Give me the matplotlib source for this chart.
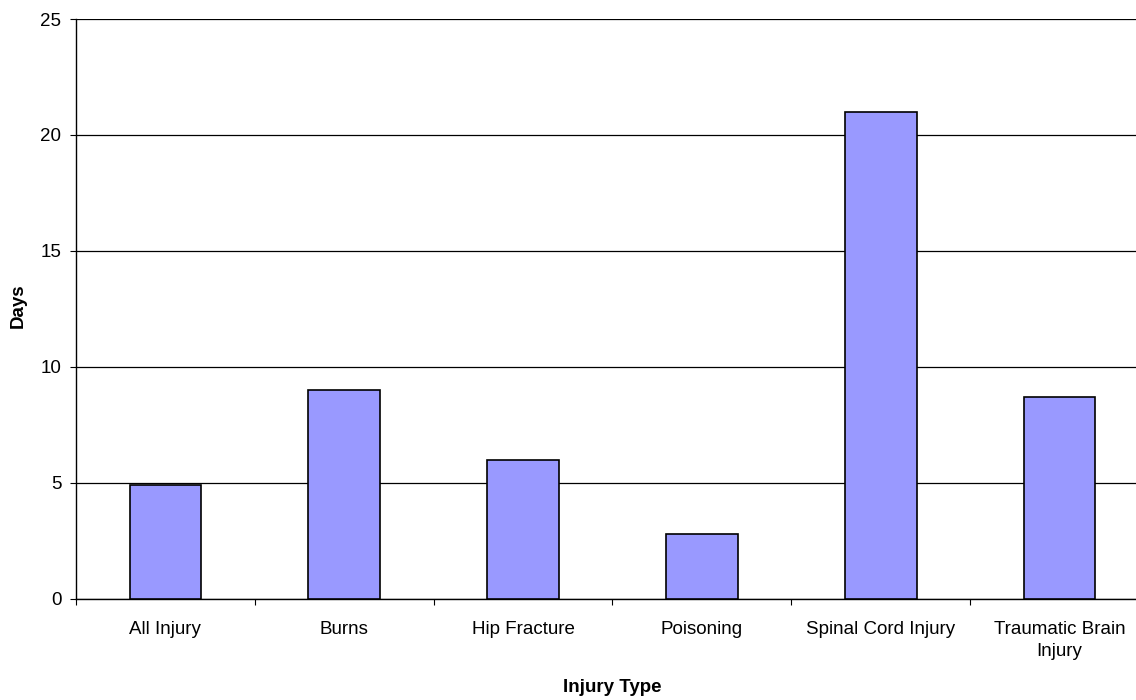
import matplotlib
matplotlib.use("Agg")
import matplotlib.pyplot as plt
from matplotlib.ticker import FixedLocator, NullFormatter

categories = ["All Injury", "Burns", "Hip Fracture", "Poisoning", "Spinal Cord Injury", "Traumatic Brain\nInjury"]
days = [4.9, 9.0, 6.0, 2.8, 21.0, 8.7]
yticks = [0, 5, 10, 15, 20, 25]

plt.rcParams['font.family'] = ['Liberation Sans', 'DejaVu Sans']

W, H = 1136, 700
fig = plt.figure(figsize=(W/100, H/100), dpi=100)
left, right, bottom, top = 76, 1149, 598.7, 19
ax = fig.add_axes([left/W, 1-bottom/H, (right-left)/W, (bottom-top)/H])

x = list(range(len(categories)))
ax.bar(x, days, width=0.4, color='#9999FF', edgecolor='black', linewidth=1.2, zorder=3)

ax.set_xlim(-0.5, len(categories)-0.5)
ax.set_ylim(0, 25)
ax.set_yticks(yticks)
ax.yaxis.grid(True, color='black', linewidth=0.9, zorder=0)
ax.set_axisbelow(True)

ax.set_xticks(x)
ax.set_xticklabels(categories, fontsize=13.5, linespacing=1.4)
ax.tick_params(axis='x', which='major', length=0, pad=16)
ax.xaxis.set_minor_locator(FixedLocator([i-0.5 for i in range(len(categories)+1)]))
ax.xaxis.set_minor_formatter(NullFormatter())
ax.tick_params(axis='x', which='minor', length=4.5, width=0.8, color='black', direction='out')
ax.tick_params(axis='y', length=4.5, width=0.8, pad=6, labelsize=13.5)

for s in ['top', 'right']:
    ax.spines[s].set_visible(False)
for s in ['left', 'bottom']:
    ax.spines[s].set_linewidth(1.0)
    ax.spines[s].set_color('black')

fig.text(612/W, 1-688/H, "Injury Type", ha='center', va='center', fontsize=13.5, fontweight='bold')
fig.text(18/W, 1-306/H, "Days", ha='center', va='center', rotation=90, fontsize=13.5, fontweight='bold')

fig.savefig("out.png", dpi=100)
